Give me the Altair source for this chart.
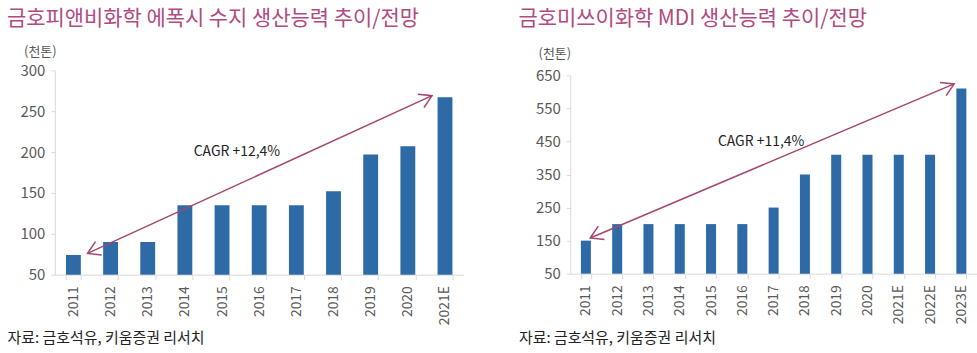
import altair as alt
import pandas as pd

FONT = "Noto Sans CJK KR"
BAR_COLOR = "#2e6aa5"
ARROW_COLOR = "#a4466f"
TITLE_COLOR = "#b04a7f"

# ---- data ----
left_years = ["2011", "2012", "2013", "2014", "2015", "2016", "2017", "2018", "2019", "2020", "2021E"]
left_values = [74, 90, 90, 135, 135, 135, 135, 152, 197, 207, 267]
left_arrow_x = [0.88, 10.15]
left_arrow_y = [76, 269]
left_cagr = ["CAGR +12,4%"]
left_cagr_x = [4.9]
left_cagr_y = [200]

right_years = ["2011", "2012", "2013", "2014", "2015", "2016", "2017", "2018", "2019", "2020",
               "2021E", "2022E", "2023E"]
right_values = [150, 200, 200, 200, 200, 200, 250, 350, 410, 410, 410, 410, 610]
right_arrow_x = [0.64, 12.27]
right_arrow_y = [158, 624]
right_cagr = ["CAGR +11,4%"]
right_cagr_x = [6.1]
right_cagr_y = [448]

source_text = "자료: 금호석유, 키움증권 리서치"

HEAD = "M -1 -0.6 L 0 0 L -1 0.6"


def panel(title, years, values, ax, ay, ctext, cx, cy, ymin, ymax, ystep, width, height,
          top_gap, pad_inner, title_offset, left_shift, unit_x, unit_y, foot_y):
    bars_df = pd.DataFrame({"year": years, "value": values})
    arrow_df = pd.DataFrame({"x": ax, "y": ay})
    start_df = arrow_df.iloc[[0]]
    end_df = arrow_df.iloc[[1]]
    text_df = pd.DataFrame({"t": ctext, "x": cx, "y": cy})
    n = len(years)

    yscale = alt.Scale(domain=[ymin, ymax], zero=False, nice=False, range=[height, top_gap])
    xq = alt.Scale(domain=[0, n], nice=False, zero=False)

    bars = alt.Chart(bars_df).mark_bar(color=BAR_COLOR).encode(
        x=alt.X("year:N", sort=years,
                scale=alt.Scale(paddingInner=pad_inner, paddingOuter=pad_inner / 2),
                axis=alt.Axis(title=source_text, titleX=left_shift, titleY=foot_y,
                              titleAlign="left", titleBaseline="middle", titleAngle=0,
                              titleFont=FONT, titleFontSize=15, titleFontWeight="normal",
                              titleColor="#222222",
                              labelAngle=-90, labelAlign="right", labelBaseline="middle",
                              labelFont=FONT, labelFontSize=14, labelColor="#595959",
                              labelPadding=6, tickBand="extent", tickSize=5,
                              tickColor="#d9d9d9", domainColor="#d9d9d9")),
        y=alt.Y("value:Q", scale=yscale,
                axis=alt.Axis(title="(천톤)", titleAngle=0, titleX=unit_x, titleY=unit_y,
                              titleAlign="center", titleBaseline="middle",
                              titleFont=FONT, titleFontSize=13, titleFontWeight="normal",
                              titleColor="#595959",
                              values=list(range(ymin, ymax + 1, ystep)),
                              labelFont=FONT, labelFontSize=15, labelColor="#595959",
                              labelPadding=6, grid=False, tickSize=4,
                              tickColor="#d9d9d9", domainColor="#d9d9d9")),
        y2=alt.datum(ymin),
    )

    enc = dict(
        x=alt.X("x:Q", scale=xq, axis=None),
        y=alt.Y("y:Q", scale=yscale, axis=None),
    )
    line = alt.Chart(arrow_df).mark_line(color=ARROW_COLOR, strokeWidth=1.5).encode(**enc)
    head_end = alt.Chart(end_df).mark_point(shape=HEAD, filled=False, color=ARROW_COLOR,
                                            strokeWidth=1.5, size=600, opacity=1).encode(
        angle=alt.value(335), **enc)
    head_start = alt.Chart(start_df).mark_point(shape=HEAD, filled=False, color=ARROW_COLOR,
                                                strokeWidth=1.5, size=600, opacity=1).encode(
        angle=alt.value(155), **enc)
    txt = alt.Chart(text_df).mark_text(font=FONT, fontSize=14, color="#222222").encode(
        text="t:N", **enc)

    overlay = alt.layer(line, head_end, head_start, txt)
    return alt.layer(bars, overlay).resolve_scale(x="independent", y="independent").properties(
        width=width, height=height,
        title=alt.TitleParams(title, anchor="start", frame="group", dx=left_shift, offset=title_offset,
                              font=FONT, fontSize=21, fontWeight="normal", color=TITLE_COLOR),
    )


left = panel("금호피앤비화학 에폭시 수지 생산능력 추이/전망", left_years, left_values,
             left_arrow_x, left_arrow_y, left_cagr, left_cagr_x, left_cagr_y,
             50, 300, 50, 410, 205, 0, 0.6, 16, -48, -15, -19, 63)
right = panel("금호미쓰이화학 MDI 생산능력 추이/전망", right_years, right_values,
              right_arrow_x, right_arrow_y, right_cagr, right_cagr_x, right_cagr_y,
              50, 650, 100, 408, 204, 5, 0.68, 18, -52, -16, -17, 64)

chart = alt.hconcat(left, right, spacing=55).properties(
    padding={"left": 7, "top": 8, "right": 0, "bottom": 0},
).configure_view(stroke=None)

chart.save("out.html", embed_options={"renderer": "svg", "actions": False})
